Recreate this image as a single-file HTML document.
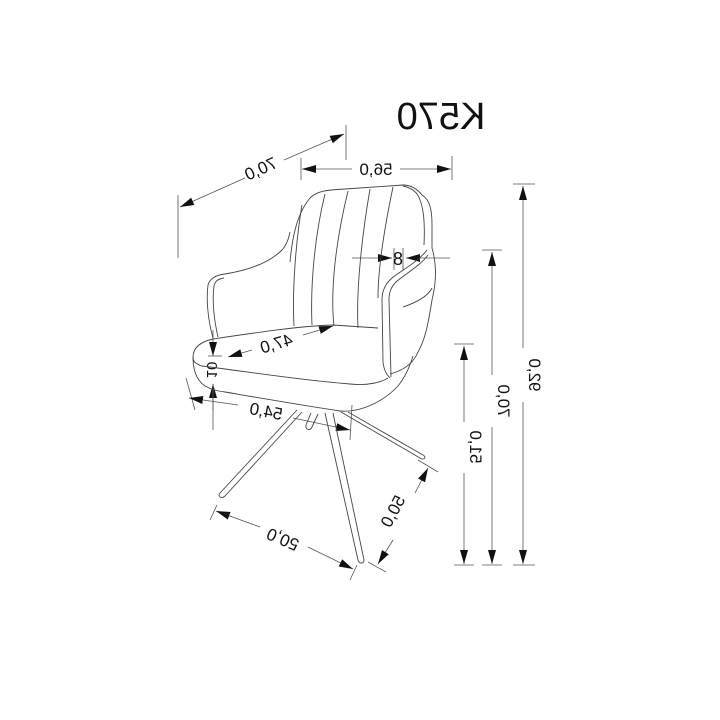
<!DOCTYPE html>
<html><head><meta charset="utf-8"><style>
html,body{margin:0;padding:0;background:#fff;}
svg{display:block}
text{font-family:"Liberation Sans",sans-serif;fill:#111;}
</style></head><body>
<svg width="720" height="720" viewBox="0 0 720 720" xmlns="http://www.w3.org/2000/svg">
<defs>
<marker id="a" viewBox="0 0 14 8" refX="14" refY="4" markerWidth="14" markerHeight="8" orient="auto-start-reverse" markerUnits="userSpaceOnUse"><path d="M0,0 L14,4 L0,8 Z" fill="#111"/></marker>
</defs>
<rect width="720" height="720" fill="#fff"/>
<text transform="translate(441,129) scale(-1,1)" font-size="38" text-anchor="middle">K570</text>

<g stroke="#555" stroke-width="0.8" fill="none">
<line x1="178" y1="195" x2="178" y2="258"/>
<line x1="346" y1="125" x2="346" y2="160"/>
<line x1="180" y1="207" x2="245" y2="178" marker-start="url(#a)"/>
<line x1="284" y1="160" x2="344" y2="134" marker-end="url(#a)"/>
<line x1="301" y1="158" x2="301" y2="180"/>
<line x1="452" y1="156" x2="452" y2="180"/>
<line x1="302" y1="169" x2="352" y2="169" marker-start="url(#a)"/>
<line x1="400" y1="169" x2="451" y2="169" marker-end="url(#a)"/>
<line x1="513" y1="184" x2="535" y2="184"/>
<line x1="513" y1="565" x2="535" y2="565"/>
<line x1="523" y1="186" x2="523" y2="348" marker-start="url(#a)"/>
<line x1="523" y1="402" x2="523" y2="564" marker-end="url(#a)"/>
<line x1="482" y1="250" x2="502" y2="250"/>
<line x1="482" y1="565" x2="502" y2="565"/>
<line x1="492" y1="252" x2="492" y2="375" marker-start="url(#a)"/>
<line x1="492" y1="427" x2="492" y2="564" marker-end="url(#a)"/>
<line x1="454" y1="344" x2="474" y2="344"/>
<line x1="454" y1="565" x2="474" y2="565"/>
<line x1="464" y1="346" x2="464" y2="422" marker-start="url(#a)"/>
<line x1="464" y1="473" x2="464" y2="564" marker-end="url(#a)"/>
<line x1="352" y1="258" x2="392" y2="258" marker-end="url(#a)"/>
<line x1="450" y1="258" x2="406" y2="258" marker-end="url(#a)"/>
<line x1="394" y1="248" x2="394" y2="270"/>
<line x1="403" y1="248" x2="403" y2="270"/>
<line x1="228" y1="357" x2="252" y2="350" marker-start="url(#a)"/>
<line x1="303" y1="335" x2="333" y2="326" marker-end="url(#a)"/>
<line x1="213" y1="330" x2="213" y2="356" marker-end="url(#a)"/>
<line x1="213" y1="410" x2="213" y2="384" marker-end="url(#a)"/>
<line x1="213" y1="384" x2="213" y2="430"/>
<line x1="208" y1="356" x2="222" y2="356"/>
<line x1="186" y1="378" x2="195" y2="410"/>
<line x1="189" y1="398" x2="238" y2="405" marker-start="url(#a)"/>
<line x1="293" y1="418" x2="350" y2="430" marker-end="url(#a)"/>
<line x1="352" y1="405" x2="350" y2="440"/>
<line x1="210" y1="520" x2="217" y2="505"/>
<line x1="350" y1="580" x2="357" y2="565"/>
<line x1="216" y1="511" x2="260" y2="527" marker-start="url(#a)"/>
<line x1="308" y1="547" x2="353" y2="569" marker-end="url(#a)"/>
<line x1="418" y1="460" x2="438" y2="472"/>
<line x1="368" y1="562" x2="386" y2="572"/>
<line x1="428" y1="468" x2="415" y2="493" marker-start="url(#a)"/>
<line x1="393" y1="540" x2="378" y2="564" marker-end="url(#a)"/>
</g>

<g fill="#111" font-size="17">
<text transform="translate(263,174) rotate(-24) scale(-1,1)" text-anchor="middle">70,0</text>
<text transform="translate(376,175) scale(-1,1)" text-anchor="middle">56,0</text>
<text transform="translate(398,265) scale(-1,1)" text-anchor="middle" font-size="18">8</text>
<text transform="translate(529,375) rotate(90) scale(-1,1)" text-anchor="middle">92,0</text>
<text transform="translate(498,401) rotate(90) scale(-1,1)" text-anchor="middle">70,0</text>
<text transform="translate(470,447) rotate(90) scale(-1,1)" text-anchor="middle">51,0</text>
<text transform="translate(278,349) rotate(-16) scale(-1,1)" text-anchor="middle">47,0</text>
<text transform="translate(207,370) rotate(90) scale(-1,1)" text-anchor="middle" font-size="15">10</text>
<text transform="translate(265,417) rotate(11) scale(-1,1)" text-anchor="middle">54,0</text>
<text transform="translate(285,534) rotate(203)" text-anchor="middle">50,0</text>
<text transform="translate(398,514) rotate(-62) scale(-1,1)" text-anchor="middle">50,0</text>
</g>

<g stroke="#444" stroke-width="0.9" fill="none" stroke-linejoin="round">
<path d="M290,262 C292,240 296,215 310,198 C318,190 330,190 345,189 L403,185 C412,185 418,190 422,195 C430,200 432,210 432,225 L432,248 C436,262 437,280 432,300 C428,325 425,340 418,352 C414,362 405,370 390,374"/>
<path d="M403,186 C412,188 418,193 420,200 C424,210 425,225 424,245"/>
<path d="M325,194 C316,230 310,280 312,325"/>
<path d="M348,191 C336,240 330,290 334,326"/>
<path d="M370,189 C362,235 356,290 358,328"/>
<path d="M393,187 C384,230 378,270 378,298"/>
<path d="M302,205 C296,240 292,290 294,326"/>
<path d="M213,338 C208,320 206,300 208,285 C210,278 216,275 225,274 C250,270 270,262 282,250 C288,243 289,236 290,232"/>
<path d="M218,337 C214,320 212,300 214,286 C215,281 218,279 224,278"/>
<path d="M427,250 C418,262 402,270 392,278 C385,284 382,292 382,300 L383,362 C384,370 386,374 390,378"/>
<path d="M428,255 C420,266 405,274 396,282 C390,288 389,294 389,300 L391,377"/>
<path d="M403,307 C418,302 428,296 432,288"/>
<path d="M213,339 C260,332 300,326 333,325 L378,328"/>
<path d="M213,339 C200,342 193,348 193,357 C193,362 196,364 202,366 C250,372 300,380 350,384 C368,386 382,382 388,378"/>
<path d="M193,357 C193,370 196,380 205,386 C212,390 218,391 225,392 C260,398 300,405 340,411 C362,413 385,400 398,386 C406,376 410,366 413,356"/>
<path d="M297,410 L220,493 C217,497 222,499 225,496 L302,412"/>
<path d="M341,412 L420,458 C424,461 427,457 423,455 L348,412"/>
<path d="M325,413 L358,560 C359,564 364,564 364,560 L333,413"/>
<path d="M311,413 L306,425 C305,430 310,431 312,427 L318,414"/>
</g>
</svg>
</body></html>
